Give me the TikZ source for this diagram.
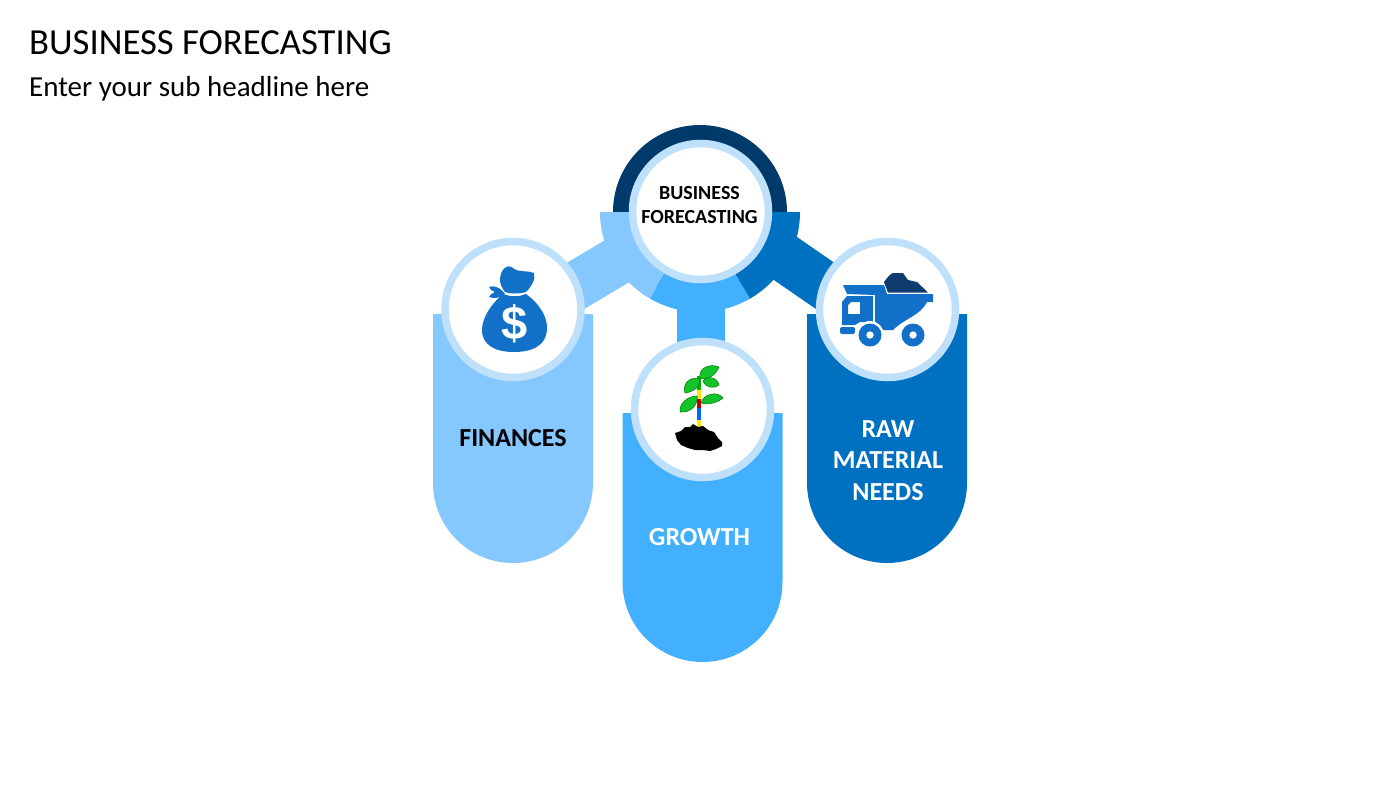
\documentclass[tikz,border=0pt]{standalone}
\usepackage{fontspec}
\setmainfont{Carlito}
\newfontfamily\signfont{Liberation Sans}
\usetikzlibrary{calc}
\definecolor{navyarc}{HTML}{003A6B}
\definecolor{finblue}{HTML}{85C8FF}
\definecolor{growblue}{HTML}{42AFFF}
\definecolor{rawblue}{HTML}{0070C0}
\definecolor{ringblue}{HTML}{BFE0FA}
\definecolor{iconblue}{HTML}{1370C8}
\definecolor{loadnavy}{HTML}{0F3C6E}
\definecolor{leafgreen}{HTML}{12C42A}
\tikzset{
  iconcircle/.style={circle,draw=ringblue,line width=7.5pt,fill=white,minimum size=136pt,inner sep=0pt},
  biglabel/.style={font=\bfseries\fontsize{26}{31.5}\selectfont,align=center},
  leaf/.style={fill=leafgreen,draw=green!45!black,line width=0.5pt},
  stempart/.style={line width=3.2pt}
}
% one piece of the ring under the hub
\newcommand{\ringpart}[3]{\fill[#1] ([shift={(#2:100pt)}]hub.center) arc[start angle=#2,end angle=#3,radius=100pt] -- ([shift={(#3:71pt)}]hub.center) arc[start angle=#3,end angle=#2,radius=71pt] -- cycle;}
% one pill with its round end down
\newcommand{\pillshape}[3]{\fill[#1] (#2-80,#3) -- (#2+80,#3) -- (#2+80,483+#3-314) arc[start angle=0,end angle=-180,radius=80pt] -- cycle;}
\begin{document}
\begin{tikzpicture}[x=1pt,y=-1pt]
\useasboundingbox (0,0) rectangle (1400,788);
\node[anchor=base west,inner sep=0pt,font=\fontsize{36.7}{37}\selectfont] (title) at (29,54) {BUSINESS FORECASTING};
\node[anchor=base west,inner sep=0pt,font=\fontsize{29}{29}\selectfont] (subtitle) at (29,96) {Enter your sub headline here};

\node[circle,fill=navyarc,minimum size=174pt,inner sep=0pt] (hubback) at (700,212) {};
\coordinate (hub) at (700,212);
\coordinate (finend) at (513,323);
\coordinate (rawstart) at (700,199.5);
\coordinate (rawend) at (887,328.6);
\coordinate (growend) at (700.8,360);

% connectors
\draw[finblue,line width=48.5pt] (hub) -- (finend);
\draw[rawblue,line width=48.5pt] (rawstart) -- (rawend);
\draw[growblue,line width=47.5pt] (hub-|growend) -- (growend);
\ringpart{finblue}{180}{240}
\ringpart{growblue}{240}{300}
\ringpart{rawblue}{300}{360}

% pills
\pillshape{finblue}{513}{314}
\pillshape{growblue}{702.5}{413}
\pillshape{rawblue}{887}{314}

\node[iconcircle] (hubcircle) at (700.5,211.5) {};
\node[iconcircle] (fincircle) at (513,309.5) {};
\node[iconcircle] (growcircle) at (702.5,409.5) {};
\node[iconcircle] (rawcircle) at (887.5,309.5) {};

\node[font=\bfseries\fontsize{20}{24}\selectfont,align=center] (hubtext) at (699.5,205.5) {BUSINESS\\FORECASTING};
\node[biglabel] (finlabel) at (513,438.5) {FINANCES};
\node[biglabel,text=white] (growlabel) at (699.5,537.5) {GROWTH};
\node[biglabel,text=white] (rawlabel) at (888,460.5) {RAW\\MATERIAL\\NEEDS};

% money bag
\fill[iconblue] (500,280) .. controls (500,270) and (507,263) .. (513,268) .. controls (519,273) and (528,270) .. (534,273) .. controls (536,279) and (531,287) .. (526,292) .. controls (519,294) and (510,294) .. (505,292) .. controls (502,288) and (500,284) .. (500,280) -- cycle;
\fill[iconblue] (503,294) .. controls (511,297) and (519,297) .. (526,294) .. controls (540,304) and (548,318) .. (547,330) .. controls (546,345) and (533,352) .. (514,352) .. controls (495,352) and (482,345) .. (482,330) .. controls (482,318) and (491,304) .. (503,294) -- cycle;
\fill[iconblue] (505,294) .. controls (500,287) and (493,285) .. (489,287) .. controls (490,290) and (492,291) .. (495,292) .. controls (492,293) and (490,295) .. (489,297) .. controls (494,299) and (500,298) .. (505,294) -- cycle;
\node[text=white,font=\signfont\bfseries\fontsize{47}{47}\selectfont,inner sep=0pt] (dollar) at (514.5,323.5) {\$};

% dump truck
\fill[loadnavy] (884,282) .. controls (887,278) and (890,274) .. (893,273) -- (903,273) -- (908,280) -- (917,282) -- (928,292.5) -- (888,292.5) -- cycle;
\fill[iconblue] (843,285) -- (884,285) -- (887,294) -- (933,294) -- (933,302) -- (927,302) .. controls (920,316) and (905,318) .. (893,330) -- (875,330) -- (875,295) -- (847,294) -- cycle;
\fill[iconblue,even odd rule] (842,302) -- (847,296) -- (873,296) -- (873,322) -- (860,322) -- (855,325) -- (842,325) -- cycle (851,302) -- (860,302) -- (860,314) -- (848,314) -- (848,305) -- cycle;
\fill[iconblue,rounded corners=2pt] (840,327) rectangle (855,334);
\fill[white] (870,335) circle[radius=14pt];
\fill[white] (913,335) circle[radius=14pt];
\fill[iconblue,even odd rule] (870,335) circle[radius=11.5pt] (870,335) circle[radius=3.8pt];
\fill[iconblue,even odd rule] (913,335) circle[radius=11.5pt] (913,335) circle[radius=3.8pt];

% seedling
\draw[green!70!black,stempart] (699,376) -- (699,390);
\draw[yellow!90!orange,stempart] (699,390) -- (699,399);
\draw[red!75!black,stempart] (699,399) -- (699,408);
\draw[blue!60!cyan,stempart] (699,408) -- (699,420);
\draw[yellow!90!orange,stempart] (699,420) -- (699,429);
\draw[leaf] (700,378) .. controls (698,368) and (710,363) .. (719,367) .. controls (716,374) and (709,381) .. (700,378) -- cycle;
\draw[leaf] (699,379) .. controls (690,376) and (682,384) .. (685,393) .. controls (693,392) and (701,387) .. (699,379) -- cycle;
\draw[leaf] (703,381) .. controls (707,375) and (717,377) .. (719,385) .. controls (713,389) and (706,388) .. (703,381) -- cycle;
\draw[leaf] (697,396) .. controls (687,396) and (679,404) .. (680,412) .. controls (691,413) and (698,405) .. (697,396) -- cycle;
\draw[leaf] (701,403) .. controls (704,393) and (718,391) .. (723,398) .. controls (717,403) and (708,405) .. (701,403) -- cycle;
\fill[black] (675,433) -- (681,431) -- (685,427) -- (690,427) -- (693,424) -- (698,427) -- (703,426) -- (708,430) -- (714,432) -- (718,438) -- (722,442) -- (722,446) -- (716,449) -- (710,451) -- (703,450) -- (695,450) -- (688,448) -- (681,445) -- (677,440) -- cycle;
\end{tikzpicture}
\end{document}
